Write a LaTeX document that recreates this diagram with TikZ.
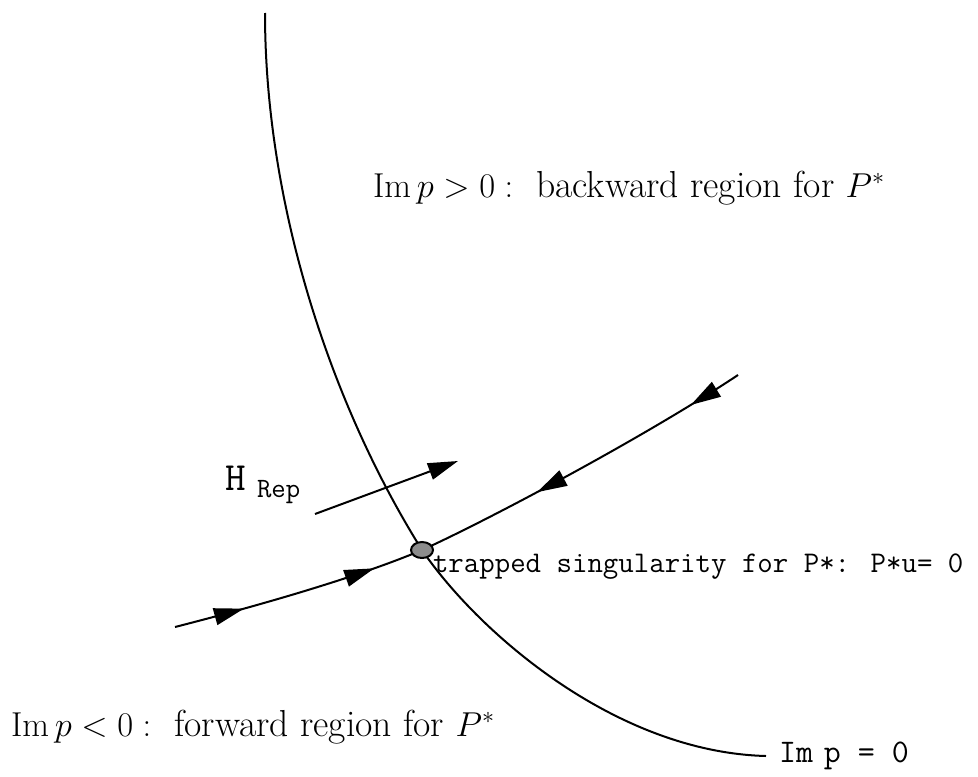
\documentclass[tikz,border=0pt]{standalone}
\usetikzlibrary{arrows.meta,decorations.markings,shapes.geometric}
\begin{document}
\begin{tikzpicture}[x=0.5pt,y=-0.5pt, line width=1pt,
  tip/.style={-{Triangle[length=15pt,width=8.5pt]}},
  fwdtip/.style={postaction={decorate,decoration={markings,mark=at position #1 with {\arrow{Triangle[length=15pt,width=8.5pt]}}}}},
  bwdtip/.style={postaction={decorate,decoration={markings,mark=at position #1 with {\arrowreversed{Triangle[length=15pt,width=8.5pt]}}}}},
  mtext/.style={font=\fontsize{18.8}{22}\selectfont, inner sep=0pt, anchor=base west},
  ttext/.style={font=\ttfamily\fontsize{15}{18}\selectfont, inner sep=0pt, anchor=base west},
  sing/.style={ellipse, draw=black, line width=1pt, fill=black!45, minimum width=11pt, minimum height=8pt, inner sep=0pt}]
\useasboundingbox (0,0) rectangle (978,776);
% boundary curve Im p = 0
\coordinate (ct) at (265,13);
\coordinate (sc) at (422,550);
\coordinate (ce) at (766,756);
\draw (ct) .. controls (265,200) and (328,400) .. (sc) .. controls (478,632) and (615,752) .. (ce);
\node[ttext, anchor=west, font=\ttfamily\fontsize{16.5}{19}\selectfont] (imz) at ([xshift=6pt]ce) {Im\,\,p = 0};
% flow line through the trapped singularity
\coordinate (a) at (175,627);
\coordinate (b) at (738,375);
\draw[fwdtip=0.115, fwdtip=0.335, bwdtip=0.625, bwdtip=0.91] (a) .. controls (300,595) and (380,568) .. (sc) .. controls (480,524) and (640,440) .. (b);
\node[sing] (s) at (sc) {};
% H_Rep arrow
\coordinate (h1) at (315,514);
\coordinate (h2) at (458,461);
\draw[tip] (h1) -- (h2);
\node[font=\ttfamily\fontsize{20}{22}\selectfont, inner sep=0pt, anchor=base west] (hl) at (224,490) {H};
\node[font=\ttfamily\fontsize{14}{16}\selectfont, inner sep=0pt, anchor=base west] (hr) at (256,497) {Rep};
% labels
\node[ttext] (tl) at (432,572) {trapped singularity for P*: P*u= 0};
\node[mtext] (top) at (372,197) {$\mathrm{Im}\,p>0:$\ \ backward region for $P^*$};
\node[mtext] (bot) at (10,736) {$\mathrm{Im}\,p<0:$\ \ forward region for $P^*$};
\end{tikzpicture}
\end{document}
